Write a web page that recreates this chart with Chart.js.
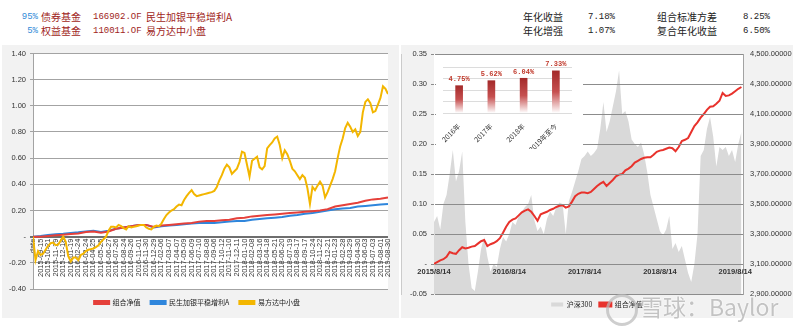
<!DOCTYPE html>
<html>
<head>
<meta charset="utf-8">
<script src="https://cdn.jsdelivr.net/npm/chart.js@4/dist/chart.umd.min.js"></script>
<style>
  body { margin: 0; width: 800px; height: 334px; background: #fff; position: relative; overflow: hidden;
         font-family: "Noto Sans CJK SC", sans-serif; }
  .t { position: absolute; font-size: 10px; line-height: 12px; white-space: nowrap; }
  .dred { color: #a01e22; }
  .blue { color: #2f8ad8; }
  .blk { color: #222; }
  .num { font-family: "Liberation Mono", "DejaVu Sans Mono", monospace; font-size: 9px; }
  .panel { position: absolute; top: 45px; height: 273px; background: #f2f2f2; }
  #inset { position: absolute; left: 436px; top: 57px; background: #fff; }
  .mark { position: absolute; left: 640px; top: 292px; font-size: 23px; line-height: 28px;
          color: rgba(175,175,175,0.75); text-shadow: 0 0 2px #fff, 0 0 1px #fff; font-family: "Noto Sans CJK SC", "Liberation Sans", sans-serif; }
  .logo { position: absolute; left: 606px; top: 294px; width: 26px; height: 26px; border-radius: 50%;
          border: 3px solid rgba(185,185,185,0.7); }
</style>
</head>
<body>
<!-- 组合说明 -->
<div class="t blue num" style="right:762px;top:11px">95%</div>
<div class="t dred" style="left:41px;top:11px">债券基金</div>
<div class="t dred num" style="left:93px;top:11px">166902.OF</div>
<div class="t dred" style="left:146px;top:11px">民生加银平稳增利A</div>
<div class="t blue num" style="right:762px;top:25px">5%</div>
<div class="t dred" style="left:41px;top:25px">权益基金</div>
<div class="t dred num" style="left:93px;top:25px">110011.OF</div>
<div class="t dred" style="left:146px;top:25px">易方达中小盘</div>

<div class="t blk" style="left:523px;top:11px">年化收益</div>
<div class="t blk num" style="left:588px;top:11px">7.18%</div>
<div class="t blk" style="left:657px;top:11px">组合标准方差</div>
<div class="t blk num" style="right:30px;top:11px">8.25%</div>
<div class="t blk" style="left:523px;top:25px">年化增强</div>
<div class="t blk num" style="left:588px;top:25px">1.07%</div>
<div class="t blk" style="left:657px;top:25px">复合年化收益</div>
<div class="t blk num" style="right:30px;top:25px">6.50%</div>

<div class="panel" style="left:2px;width:397px"><canvas id="navChart" width="397" height="273"></canvas></div>
<div class="panel" style="left:401px;width:392px"><canvas id="indexChart" width="392" height="273"></canvas></div>
<canvas id="inset" width="147" height="92"></canvas>

<div class="logo"></div>
<div class="mark">雪球：Baylor</div>

<script>
// 左图横轴日期
const dateLabels = ['date', '2015-09-15', '2015-10-21', '2015-11-19', '2015-12-18',
  '2016-01-19', '2016-02-24', '2016-03-24', '2016-04-25', '2016-05-25', '2016-06-27',
  '2016-07-26', '2016-08-24', '2016-09-26', '2016-11-01', '2016-11-30', '2016-12-29',
  '2017-02-06', '2017-03-07', '2017-04-07', '2017-05-09', '2017-06-09', '2017-07-10',
  '2017-08-08', '2017-09-06', '2017-10-12', '2017-11-10', '2017-12-11',
  '2018-01-10', '2018-02-08', '2018-03-16', '2018-04-18', '2018-05-21', '2018-06-20',
  '2018-07-19', '2018-08-17', '2018-09-17', '2018-10-24', '2018-11-22', '2018-12-21',
  '2019-01-23', '2019-02-28', '2019-03-29', '2019-04-30', '2019-06-03', '2019-07-03',
  '2019-08-01', '2019-08-30'];

// 组合净值、民生加银平稳增利A：每个日期一个点
const comboNav = [0, 0, 0.005, 0.01, 0.015, 0.02, 0.025, 0.035, 0.04, 0.03,
  0.04, 0.06, 0.07, 0.08, 0.09, 0.09, 0.075, 0.085, 0.09, 0.095,
  0.10, 0.105, 0.115, 0.12, 0.12, 0.125, 0.13, 0.14, 0.145, 0.155,
  0.16, 0.165, 0.17, 0.175, 0.18, 0.185, 0.19, 0.195, 0.20, 0.21,
  0.23, 0.24, 0.25, 0.26, 0.275, 0.285, 0.29, 0.30];
const bondNav = [0, 0.005, 0.012, 0.018, 0.022, 0.028, 0.033, 0.04, 0.045, 0.035,
  0.045, 0.06, 0.07, 0.08, 0.09, 0.09, 0.07, 0.08, 0.085, 0.09,
  0.095, 0.10, 0.105, 0.105, 0.105, 0.11, 0.115, 0.12, 0.12, 0.13,
  0.135, 0.14, 0.145, 0.15, 0.16, 0.165, 0.175, 0.18, 0.19, 0.20,
  0.21, 0.215, 0.22, 0.23, 0.235, 0.24, 0.245, 0.25];

// 易方达中小盘：每个日期间隔三个点
const equityNav = [0, -0.18, -0.11, -0.14, -0.13, -0.10, -0.07, -0.05, -0.045, -0.065,
  -0.06, -0.03, 0, -0.04, -0.15, -0.19, -0.16, -0.16, -0.18, -0.14,
  -0.13, -0.11, -0.10, -0.095, -0.09, -0.08, -0.065, -0.04, -0.02, 0,
  0.045, 0.075, 0.075, 0.07, 0.09, 0.08, 0.065, 0.055, 0.08, 0.07,
  0.075, 0.08, 0.085, 0.09, 0.09, 0.07, 0.06, 0.055, 0.075, 0.085,
  0.08, 0.10, 0.135, 0.165, 0.185, 0.20, 0.21, 0.23, 0.245, 0.24,
  0.28, 0.31, 0.335, 0.355, 0.325, 0.31, 0.315, 0.32, 0.325, 0.33,
  0.335, 0.34, 0.35, 0.38, 0.43, 0.47, 0.52, 0.55, 0.53, 0.48,
  0.50, 0.52, 0.57, 0.65, 0.64, 0.55, 0.46, 0.58, 0.595, 0.61,
  0.53, 0.515, 0.54, 0.675, 0.70, 0.72, 0.75, 0.765, 0.70, 0.60,
  0.66, 0.63, 0.58, 0.52, 0.50, 0.47, 0.44, 0.47, 0.45, 0.37,
  0.25, 0.38, 0.355, 0.39, 0.42, 0.39, 0.30, 0.34, 0.39, 0.44,
  0.50, 0.60, 0.69, 0.75, 0.83, 0.87, 0.84, 0.80, 0.82, 0.77,
  0.80, 0.95, 1.03, 1.05, 1.02, 0.95, 0.96, 1.01, 1.06, 1.15,
  1.13, 1.09];

// 右图：每半个月一个点
const yearLabels = ['2015/8/14', '2016/8/14', '2017/8/14', '2018/8/14', '2019/8/14'];
const hs300 = [3380, 3420, 3330, 3500, 3560, 3700, 3860, 3650, 3720, 3850,
  3380, 3100, 2940, 2920, 3050, 3200, 3280, 3150, 3050, 3100,
  3080, 3200, 3280, 3250, 3300, 3380, 3360, 3420, 3450, 3480,
  3500, 3560, 3390, 3320, 3350, 3300, 3400, 3450, 3420, 3480,
  3510, 3500, 3300, 3520, 3580, 3650, 3720, 3800, 3820, 3850,
  3820, 3840, 3870, 4000, 4180, 3980, 4050, 4150, 4250, 4390,
  4100, 4120, 4050, 3930, 3900, 3880, 3910, 3830, 3710, 3560,
  3480, 3400, 3320, 3290, 3330, 3420, 3200, 3240, 3180, 3220,
  3130, 3040, 2980, 3100, 3300, 3820, 3860, 4000, 4080, 3950,
  3750, 3880, 3860, 3880, 3820, 3860, 3780, 3900, 3980];
const portfolio = [0, 0.003, 0.006, 0.008, 0.012, 0.02, 0.018, 0.017, 0.023, 0.028,
  0.026, 0.027, 0.029, 0.03, 0.034, 0.038, 0.04, 0.03, 0.033, 0.035,
  0.038, 0.043, 0.052, 0.062, 0.07, 0.074, 0.076, 0.081, 0.086, 0.089,
  0.091, 0.087, 0.08, 0.072, 0.083, 0.085, 0.087, 0.09, 0.092, 0.095,
  0.097, 0.098, 0.094, 0.096, 0.104, 0.113, 0.117, 0.119, 0.119, 0.118,
  0.12, 0.125, 0.13, 0.134, 0.137, 0.13, 0.135, 0.14, 0.146, 0.149,
  0.15, 0.156, 0.159, 0.163, 0.169, 0.172, 0.175, 0.177, 0.178, 0.178,
  0.182, 0.187, 0.189, 0.19, 0.192, 0.194, 0.193, 0.188, 0.195, 0.205,
  0.207, 0.21, 0.22, 0.23, 0.236, 0.244, 0.25, 0.257, 0.262, 0.263,
  0.267, 0.272, 0.285, 0.28, 0.281, 0.284, 0.288, 0.292, 0.295];

// 分年度收益
const yearNames = ['2016年', '2017年', '2018年', '2019年至今'];
const yearReturns = [4.75, 5.62, 6.04, 7.33];

Chart.defaults.font.family = '"Liberation Sans", "Noto Sans CJK SC", sans-serif';
Chart.defaults.color = '#333';
Chart.defaults.animation = false;

// 绘图区填白色
const whiteArea = {
  id: 'whiteArea',
  beforeDraw(chart) {
    const {ctx, chartArea: a} = chart;
    ctx.save();
    ctx.fillStyle = '#fff';
    ctx.fillRect(a.left, a.top, a.width, a.height);
    ctx.restore();
  }
};

const fmt2 = v => Math.abs(v) < 1e-9 ? '-' : v.toFixed(2);
const legendFont = {size: 7, family: '"Noto Sans CJK SC", sans-serif'};
const byIndex = (a, b) => a.datasetIndex - b.datasetIndex;

new Chart('navChart', {
  type: 'line',
  data: {
    datasets: [
      {label: '组合净值', data: comboNav.map((v, i) => ({x: i, y: v})),
       borderColor: '#e5403a', backgroundColor: '#e5403a', order: 1},
      {label: '民生加银平稳增利A', data: bondNav.map((v, i) => ({x: i, y: v})),
       borderColor: '#2f86dc', backgroundColor: '#2f86dc', order: 2},
      {label: '易方达中小盘', data: equityNav.map((v, i) => ({x: i / 3, y: v})),
       borderColor: '#f3b600', backgroundColor: '#f3b600', order: 0}
    ]
  },
  options: {
    responsive: false,
    elements: {point: {radius: 0}, line: {borderWidth: 2, tension: 0}},
    layout: {padding: {left: 0, right: 7, top: 8, bottom: 2}},
    plugins: {
      tooltip: {enabled: false},
      legend: {position: 'bottom',
        labels: {boxWidth: 15, boxHeight: 3, padding: 10, font: legendFont, color: '#222', sort: byIndex}}
    },
    scales: {
      x: {
        type: 'linear', min: 0, max: 47, position: {y: 0},
        afterBuildTicks: s => { s.ticks = dateLabels.map((_, i) => ({value: i})); },
        afterFit: s => { s.height = 0; },
        grid: {display: false, drawTicks: false},
        border: {display: false},
        ticks: {autoSkip: false, minRotation: 90, maxRotation: 90, padding: 2,
          font: {size: 7.5}, color: '#333', callback: (v, i) => dateLabels[i]}
      },
      y: {
        min: -0.4, max: 1.4,
        afterFit: s => { s.width = 31; },
        ticks: {stepSize: 0.2, padding: 4, font: {size: 7.5}, callback: fmt2},
        grid: {tickLength: 3,
          color: c => Math.abs(c.tick.value) < 1e-9 ? '#6e6e6e' : '#a3a3a3',
          lineWidth: c => Math.abs(c.tick.value) < 1e-9 ? 2 : 1},
        border: {color: '#a3a3a3'}
      }
    }
  },
  plugins: [whiteArea]
});

new Chart('indexChart', {
  type: 'line',
  data: {
    datasets: [
      {label: '沪深300', data: hs300.map((v, i) => ({x: i, y: v})), yAxisID: 'y1',
       fill: 'start', borderWidth: 0, borderColor: '#d9d9d9', backgroundColor: '#d9d9d9', order: 2},
      {label: '组合净值', data: portfolio.map((v, i) => ({x: i, y: v})), yAxisID: 'y',
       borderWidth: 2, borderColor: '#e8322c', backgroundColor: '#e8322c', order: 1}
    ]
  },
  options: {
    responsive: false,
    elements: {point: {radius: 0}, line: {tension: 0}},
    layout: {padding: {left: 0, right: 0, top: 9, bottom: 0}},
    plugins: {
      tooltip: {enabled: false},
      legend: {position: 'bottom',
        labels: {boxWidth: 12, boxHeight: 4, padding: 7, font: legendFont, color: '#222', sort: byIndex}}
    },
    scales: {
      x: {
        type: 'linear', min: 0, max: 98.5, position: {y: 0},
        afterBuildTicks: s => { s.ticks = yearLabels.map((_, i) => ({value: i * 24})); },
        afterFit: s => { s.height = 0; },
        grid: {display: false, drawTicks: false},
        border: {display: false},
        ticks: {z: 1, autoSkip: false, maxRotation: 0, padding: 3, font: {size: 7.5, weight: 'bold'},
          color: '#333', callback: (v, i) => yearLabels[i]}
      },
      y: {
        position: 'left', min: -0.05, max: 0.35,
        afterFit: s => { s.width = 33; },
        ticks: {stepSize: 0.05, padding: 4, font: {size: 7.5}, callback: fmt2},
        grid: {z: 1, tickLength: 3, color: '#8c8c8c'},
        border: {color: '#a3a3a3'}
      },
      y1: {
        position: 'right', min: 2900, max: 4500,
        afterFit: s => { s.width = 50; },
        ticks: {stepSize: 200, padding: 4, font: {size: 7.5},
          callback: v => v.toLocaleString('en-US', {minimumFractionDigits: 5, maximumFractionDigits: 5})},
        grid: {display: false, tickLength: 3},
        border: {color: '#a3a3a3'}
      }
    }
  },
  plugins: [whiteArea]
});

// 柱顶标注收益率
const barValues = {
  id: 'barValues',
  afterDatasetsDraw(chart) {
    const {ctx} = chart;
    ctx.save();
    ctx.font = 'bold 7px "Liberation Mono", monospace';
    ctx.fillStyle = '#c0392b';
    ctx.textAlign = 'center';
    ctx.textBaseline = 'bottom';
    chart.getDatasetMeta(0).data.forEach((bar, i) => {
      ctx.fillText(yearReturns[i].toFixed(2) + '%', bar.x, bar.y - 3);
    });
    ctx.restore();
  }
};

new Chart('inset', {
  type: 'bar',
  data: {
    labels: yearNames,
    datasets: [{
      data: yearReturns,
      barThickness: 7,
      backgroundColor(c) {
        const chart = c.chart;
        if (!chart.chartArea) return '#b03a3a';
        const y = chart.scales.y;
        const top = y.getPixelForValue(c.raw);
        const base = y.getPixelForValue(0);
        const g = chart.ctx.createLinearGradient(0, top, 0, base);
        g.addColorStop(0, '#a42a2a');
        g.addColorStop(0.5, '#c65050');
        g.addColorStop(1, '#ffffff');
        return g;
      }
    }]
  },
  options: {
    responsive: false,
    layout: {padding: {left: 7, right: 11, top: 10, bottom: 0}},
    plugins: {legend: {display: false}, tooltip: {enabled: false}},
    scales: {
      x: {
        afterFit: s => { s.height = 36; },
        grid: {display: false},
        border: {display: false},
        ticks: {minRotation: 45, maxRotation: 45, padding: 1,
          font: {size: 7, family: '"Noto Sans CJK SC", sans-serif'}, color: '#333'}
      },
      y: {
        min: 0, max: 8,
        afterFit: s => { s.width = 0; },
        ticks: {display: false, stepSize: 2},
        grid: {color: '#dcdcdc', drawTicks: false},
        border: {display: false}
      }
    }
  },
  plugins: [barValues]
});
</script>
</body>
</html>
